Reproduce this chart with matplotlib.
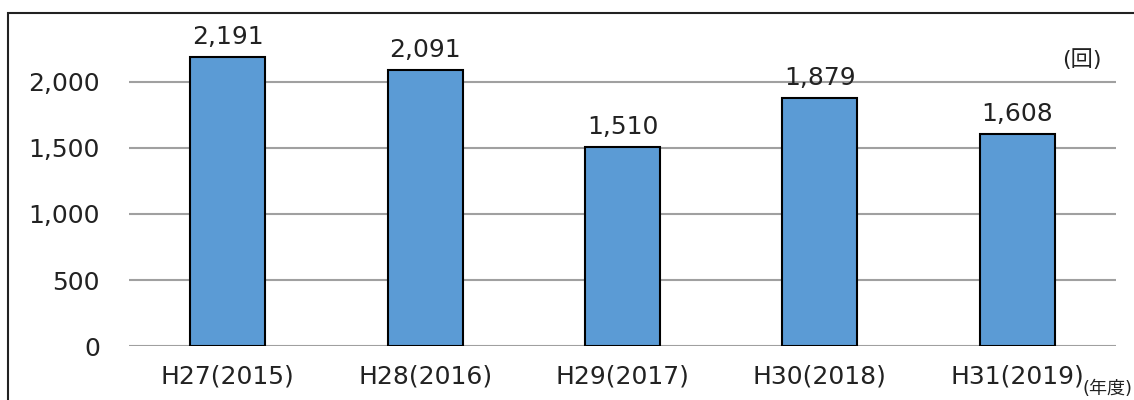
import matplotlib.pyplot as plt
from matplotlib.patches import Rectangle

plt.rcParams['font.family'] = ['DejaVu Sans', 'Noto Sans CJK JP']

years = ["H27(2015)", "H28(2016)", "H29(2017)", "H30(2018)", "H31(2019)"]
counts = [2191, 2091, 1510, 1879, 1608]

fig = plt.figure(figsize=(11.34, 4.0), dpi=100)
ax = fig.add_axes([0.1138, 0.135, 0.8702, 0.825])

x = range(len(years))
ax.bar(x, counts, width=0.38, color="#5B9BD5", edgecolor="black", linewidth=1.5, zorder=3)

for i, v in zip(x, counts):
    ax.text(i, v + 60, f"{v:,}", ha="center", va="bottom", fontsize=18, color="#222222")

ax.set_xlim(-0.5, len(years) - 0.5)
ax.set_ylim(0, 2500)
ax.set_yticks([0, 500, 1000, 1500, 2000])
ax.set_yticklabels([f"{t:,}" for t in [0, 500, 1000, 1500, 2000]])
ax.set_xticks(list(x))
ax.set_xticklabels(years)
ax.tick_params(axis="both", length=0, labelsize=18, colors="#222222")
ax.tick_params(axis="y", pad=21)
ax.tick_params(axis="x", pad=13)
ax.yaxis.grid(True, color="#A0A0A0", linewidth=1.5, zorder=0)
for s in ax.spines.values():
    s.set_visible(False)

fig.text(1102 / 1134, 1 - 60 / 400, "(回)", ha="right", va="center", fontsize=16, color="#222222")
fig.text(1132 / 1134, 1 - 389 / 400, "(年度)", ha="right", va="center", fontsize=13, color="#222222")

fig.patches.append(Rectangle((8 / 1134, -0.1), 1.2, 1 - 13 / 400 + 0.1, transform=fig.transFigure,
                             fill=False, edgecolor="#222222", linewidth=1.5))

fig.savefig("out.png", dpi=100)
